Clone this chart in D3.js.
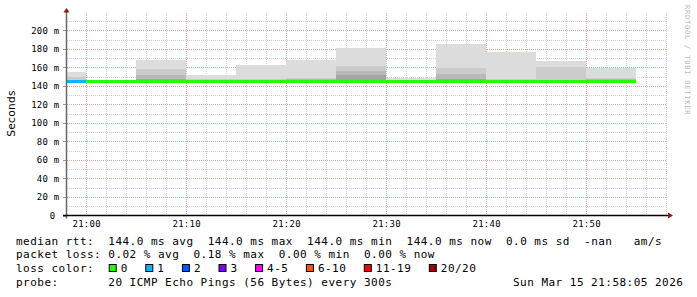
<!DOCTYPE html>
<html><head><meta charset="utf-8">
<script src="https://cdn.jsdelivr.net/npm/d3@7/dist/d3.min.js"></script>
<style>
html,body{margin:0;padding:0;background:#fff;}
svg{display:block;}
text{white-space:pre;}
</style></head>
<body>
<script>
// ---- data ----
const slotStarts = ["20:55","21:00","21:05","21:10","21:15","21:20","21:25","21:30","21:35","21:40","21:45","21:50"];
const medianRtt  = [144,144,144,144,144,144,144,144,144,144,144,144];
const lossPings  = [1,0,0,0,0,0,0,0,0,0,0,0];
const smokeMin   = [143,143,143,143,143,143,143,143,143,143,143,143];
const smokeMax   = [155,147,168,151.5,162.7,168,180.7,148.3,185.4,176.8,167,159.8];
const smokeQ2    = [150,145.8,158,147.5,147.5,149,161.6,146.5,159.5,148,160.2,148.5];
const smokeQ3    = [147,145.2,151.5,146,146.9,147.5,156,145.6,153,146.5,147,147.6];
const smokeQ4    = [145.5,144.6,148,145,146.6,146,151.9,145,148,145.5,146,146.8];
const yTickValues = [0,20,40,60,80,100,120,140,160,180,200];
const yTickLabels = ["0","20 m","40 m","60 m","80 m","100 m","120 m","140 m","160 m","180 m","200 m"];
const lossLabels = ["0","1","2","3","4-5","6-10","11-19","20/20"];
const lossColors = ["#26ff00","#00b8ff","#0059ff","#7e00ff","#ff00ff","#ff5500","#ff0000","#a10000"];
const lossThresh = [0,1,2,3,5,10,19,20];
const statsLine1 = "median rtt:  144.0 ms avg  144.0 ms max  144.0 ms min  144.0 ms now  0.0 ms sd  -nan   am/s";
const statsLine2 = "packet loss: 0.02 % avg  0.18 % max  0.00 % min  0.00 % now";
const probeLine  = "probe:       20 ICMP Echo Pings (56 Bytes) every 300s";
const dateStamp  = "Sun Mar 15 21:58:05 2026";
const yTitle = "Seconds";
const watermark = "RRDTOOL / TOBI OETIKER";
const tStart = new Date(2026,2,15,20,58,5), tEnd = new Date(2026,2,15,21,58,5);
const yMax = 218.9;

// ---- layout ----
const W=697,H=297, L=67, R=667, B=215.5, T=13;
const parse = s => { const [h,m]=s.split(":").map(Number); return new Date(2026,2,15,h,m,0); };
const x = d3.scaleTime().domain([tStart,tEnd]).range([L,R]);
const y = d3.scaleLinear().domain([0,yMax]).range([B,T]);
const svg = d3.select("body").append("svg").attr("width",W).attr("height",H);
svg.append("rect").attr("width",W).attr("height",H).attr("fill","#fff");
const mono = "'DejaVu Sans Mono', monospace";

svg.append("defs").append("clipPath").attr("id","pc").append("rect")
  .attr("x",L).attr("y",T).attr("width",R-L).attr("height",B-T);

// grid
const g = svg.append("g");
const minorX = d3.timeMinute.every(2).range(tStart,tEnd).filter(d=>d.getMinutes()%10!==0);
const majorX = d3.timeMinute.every(10).range(tStart,tEnd);
g.selectAll(".mx").data(minorX).join("line")
  .attr("x1",d=>Math.round(x(d))+0.5).attr("x2",d=>Math.round(x(d))+0.5)
  .attr("y1",T).attr("y2",B).attr("stroke","#cdcdcd").attr("stroke-dasharray","1,1");
const minorY = d3.range(10,yMax,20);
g.selectAll(".my").data(minorY).join("line")
  .attr("x1",L).attr("x2",R).attr("y1",d=>Math.round(y(d))+0.5).attr("y2",d=>Math.round(y(d))+0.5)
  .attr("stroke","#cdcdcd").attr("stroke-dasharray","1,1");
g.selectAll(".Mx").data(majorX).join("line")
  .attr("x1",d=>Math.round(x(d))+0.5).attr("x2",d=>Math.round(x(d))+0.5)
  .attr("y1",T).attr("y2",B).attr("stroke","#e3a3a3").attr("stroke-dasharray","1,1");
g.selectAll(".My").data(yTickValues.filter(v=>v>0)).join("line")
  .attr("x1",L).attr("x2",R).attr("y1",d=>Math.round(y(d))+0.5).attr("y2",d=>Math.round(y(d))+0.5)
  .attr("stroke","#e3a3a3").attr("stroke-dasharray","1,1");

// smoke
const plot = svg.append("g").attr("clip-path","url(#pc)").attr("shape-rendering","crispEdges");
const slots = slotStarts.map((s,i)=>({t0:parse(s),t1:new Date(parse(s).getTime()+300000),i}));
const tiers = [[smokeMax,"#dcdcdc"],[smokeQ2,"#cbcbcb"],[smokeQ3,"#b8b8b8"],[smokeQ4,"#a4a4a4"]];
tiers.forEach(([arr,col])=>{
  plot.selectAll(null).data(slots).join("rect")
    .attr("x",d=>x(d.t0)).attr("width",d=>x(d.t1)-x(d.t0))
    .attr("y",d=>y(arr[d.i])).attr("height",d=>y(smokeMin[d.i])-y(arr[d.i]))
    .attr("fill",col);
});
const lossColor = n => lossColors[lossThresh.findIndex(t=>n<=t)];
plot.selectAll(null).data(slots).join("rect")
  .attr("x",d=>x(d.t0)).attr("width",d=>x(d.t1)-x(d.t0))
  .attr("y",d=>y(medianRtt[d.i])-2).attr("height",3)
  .attr("fill",d=>lossColor(lossPings[d.i]));

// axes
const ax = svg.append("g");
ax.selectAll(".yt").data(yTickValues).join("line")
  .attr("x1",63).attr("x2",L).attr("y1",d=>Math.round(y(d))+0.5).attr("y2",d=>Math.round(y(d))+0.5)
  .attr("stroke","#999");
ax.append("line").attr("x1",L-0.5).attr("x2",L-0.5).attr("y1",B+3).attr("y2",T-1).attr("stroke","#666").attr("stroke-width",1.5);
ax.append("line").attr("x1",63).attr("x2",669).attr("y1",B).attr("y2",B).attr("stroke","#000").attr("stroke-width",1.5);
ax.append("path").attr("d",`M${L-3.5},${T-0.5} L${L+2.5},${T-0.5} L${L-0.5},${T-5} Z`).attr("fill","#8b1a1a");
ax.append("path").attr("d",`M668,${B-3} L668,${B+3} L673,${B} Z`).attr("fill","#8b1a1a");

// tick labels
svg.selectAll(".yl").data(yTickValues).join("text")
  .attr("x",(d,i)=>yTickLabels[i]==="0"?55.5:59.5).attr("y",d=>y(d)+3.3)
  .attr("text-anchor","end").attr("font-family",mono).attr("font-size",9).attr("letter-spacing",0.25)
  .attr("fill","#000").text((d,i)=>yTickLabels[i]);
svg.selectAll(".xl").data(majorX).join("text")
  .attr("x",d=>x(d)+0.5).attr("y",227).attr("text-anchor","middle")
  .attr("font-family",mono).attr("font-size",9).attr("letter-spacing",0.25).attr("fill","#000")
  .text(d3.timeFormat("%H:%M"));

// titles
svg.append("text").attr("transform","translate(14.5,113.5) rotate(-90)").attr("text-anchor","middle")
  .attr("font-family","'DejaVu Sans', sans-serif").attr("font-size",10.6).attr("letter-spacing",0.3)
  .attr("fill","#000").text(yTitle);
svg.append("text").attr("transform","translate(685,5) rotate(90)").attr("text-anchor","start")
  .attr("font-family",mono).attr("font-size",7).attr("letter-spacing",0.8).attr("fill","#b8b8b8")
  .text(watermark);

// legend
const cw = 7.1, lx = 16;
const lt = (s,xx,yy)=>svg.append("text").attr("x",xx).attr("y",yy).attr("font-family",mono)
  .attr("font-size",11).attr("letter-spacing",cw-11*0.602).attr("fill","#000").text(s);
lt(statsLine1,lx,244.5);
lt(statsLine2,lx,258.4);
lt("loss color:",lx,272.2);
let bx = 108.7;
lossLabels.forEach((lab,i)=>{
  svg.append("rect").attr("x",bx+0.5).attr("y",264.5).attr("width",7).attr("height",7)
    .attr("fill",lossColors[i]).attr("stroke","#000").attr("stroke-width",1);
  lt(lab,bx+12,272.2);
  bx += 12 + lab.length*cw + 17.5;
});
lt(probeLine,lx,286.3);
lt(dateStamp,lx+70*cw,286.3);
</script>
</body></html>
